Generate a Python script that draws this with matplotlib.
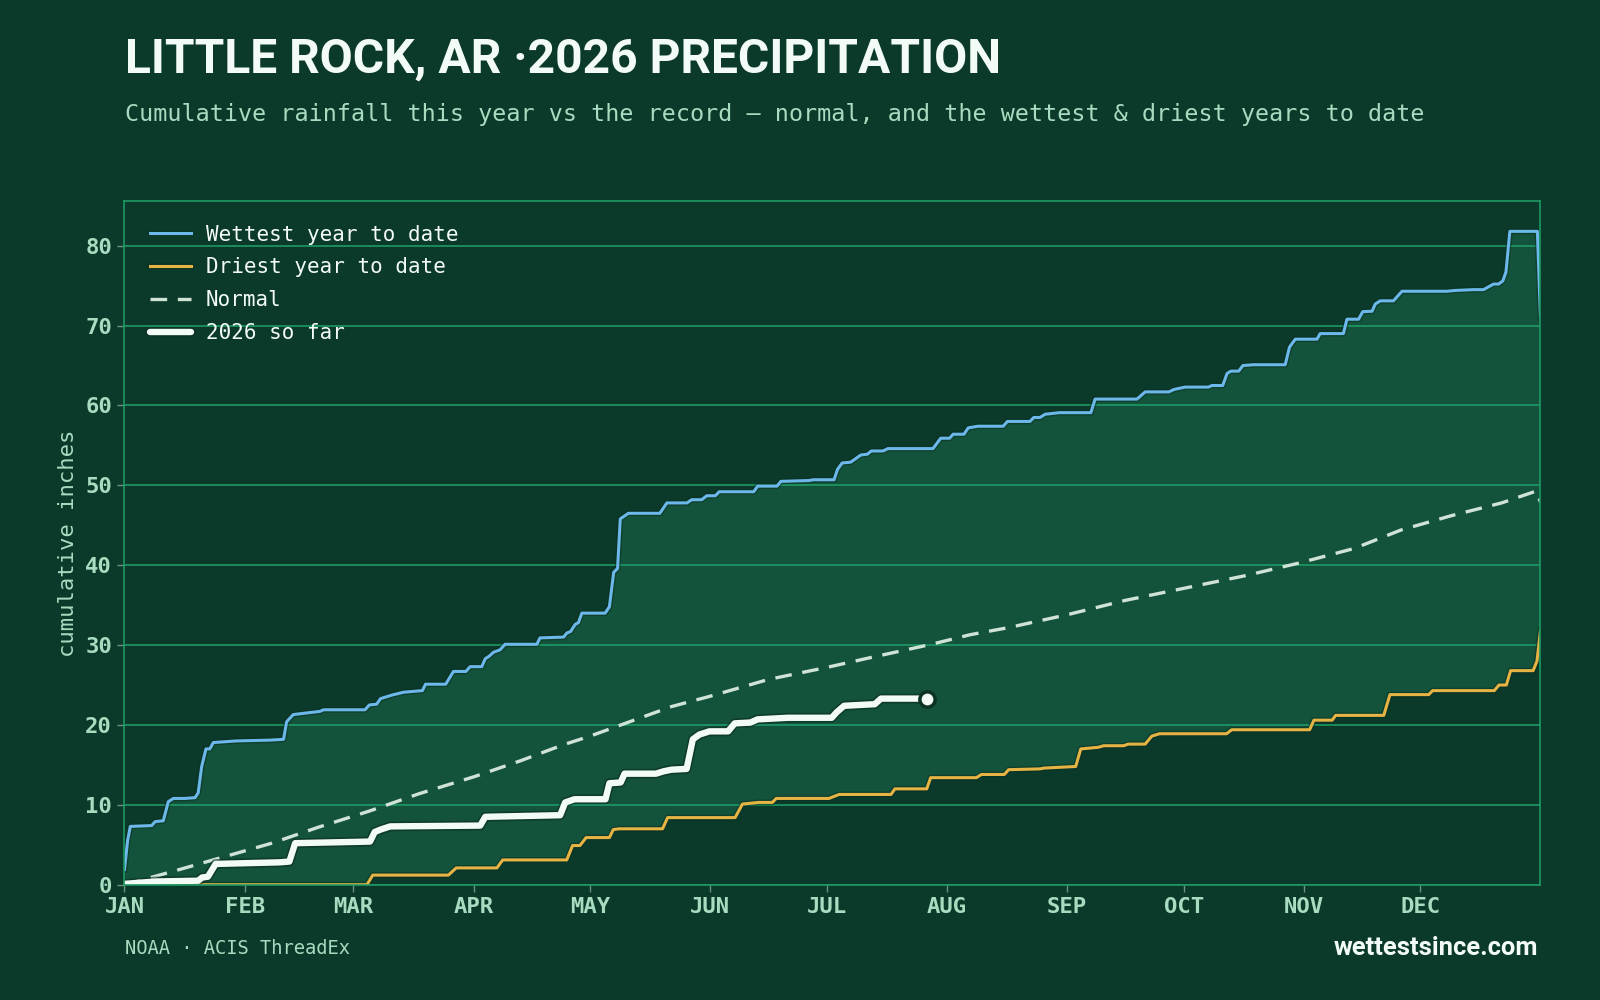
import matplotlib
matplotlib.use("Agg")
import matplotlib.pyplot as plt
import matplotlib.patheffects as pe
import numpy as np

# palette
BG = "#0b3a2a"
BAND = "#13523b"
GRID = "#1e9a63"
PALE = "#a8dcc0"
WHITE = "#f3fbf6"
WET_C = "#6db8ea"
DRY_C = "#e6b444"
NORM_C = "#cfe3d6"

MONTH_DAYS = [0, 31, 59, 90, 120, 151, 181, 212, 243, 273, 304, 334]
MONTH_LABELS = ["JAN", "FEB", "MAR", "APR", "MAY", "JUN",
                "JUL", "AUG", "SEP", "OCT", "NOV", "DEC"]
Y_TICKS = [0, 10, 20, 30, 40, 50, 60, 70, 80]

# wettest year to date (day of year, inches)
WET_DAY = [0, 0.8, 1.5, 7, 7.9, 10, 11.3, 12.6, 15.6, 18.2, 19, 19.9, 21, 22, 22.9,
           28.9, 37.5, 41, 41.8, 43.5, 50.4, 51.3, 62, 63.1, 65, 66, 69, 72, 76.8,
           77.6, 82.8, 84.8, 88, 89.1, 92.1, 93, 94, 95.1, 96.8, 98.1, 106.3, 107.1,
           113.2, 114, 115, 116.2, 117, 117.9, 123.9, 125, 126.1, 127.1, 127.8, 129.9,
           138, 139.8, 145, 146.2, 148.8, 150.1, 152.3, 153.3, 162.2, 163.2, 168.2,
           169.2, 176.4, 177.5, 182.9, 183.8, 185, 187.2, 189.8, 191.5, 192.5, 195.5,
           196.8, 208.4, 210.4, 212.7, 213.6, 216.4, 217.5, 220, 226.5, 227.6, 233.4,
           234.4, 236, 237.3, 241, 249.1, 250.2, 261, 263.1, 269.2, 270.5, 273.4,
           279.4, 280.3, 283.1, 284.2, 285.2, 287.2, 288.3, 291, 299.2, 300.3, 301.8,
           307.4, 308.2, 314.2, 315.1, 318.1, 319.2, 321.6, 322.4, 323.7, 327.1,
           329.3, 340.9, 343, 347.7, 350.3, 352.9, 354.2, 355.3, 356.1, 357.1,
           364.2, 365]
WET_IN = [1.9, 5.5, 7.3, 7.4, 7.9, 8.0, 10.4, 10.8, 10.8, 10.9, 11.5, 14.8, 17.0, 17.0,
          17.8, 18.0, 18.1, 18.2, 20.4, 21.3, 21.7, 21.9, 21.9, 22.5, 22.6, 23.3, 23.75,
          24.1, 24.3, 25.1, 25.1, 26.7, 26.7, 27.3, 27.3, 28.3, 28.6, 29.1, 29.4, 30.1,
          30.1, 30.9, 31.0, 31.5, 31.7, 32.6, 32.8, 34.0, 34.0, 34.8, 39.1, 39.6, 45.8,
          46.5, 46.5, 47.8, 47.8, 48.2, 48.2, 48.7, 48.7, 49.2, 49.2, 49.9, 49.9,
          50.5, 50.6, 50.7, 50.7, 52.0, 52.8, 52.9, 53.8, 53.9, 54.3, 54.3, 54.6,
          54.6, 55.9, 55.9, 56.4, 56.4, 57.2, 57.4, 57.4, 58.0, 58.0, 58.5, 58.5,
          58.9, 59.1, 59.1, 60.8, 60.8, 61.7, 61.7, 62.0, 62.3, 62.3, 62.5, 62.5,
          64.0, 64.3, 64.3, 65.0, 65.1, 65.1, 67.3, 68.3, 68.3, 69.0, 69.0, 70.8,
          70.8, 71.75, 71.8, 72.7, 73.1, 73.1, 74.3, 74.3, 74.4, 74.5, 74.5, 75.2,
          75.2, 75.6, 76.7, 81.8, 81.8, 71.0]

# driest year to date
DRY_DAY = [0, 62.5, 64, 83.5, 85.5, 96, 97.5, 114, 115.5, 117.4, 119, 125, 126, 127.5,
           138.7, 140, 157.4, 159.3, 163.5, 167, 168, 181.6, 184.2, 197.6, 198.6, 206.8,
           207.8, 219.6, 220.9, 226.8, 227.9, 236, 237, 245.2, 246.5, 251, 252.4, 257.6,
           258.7, 263.1, 264.8, 266.8, 284.1, 285.4, 305.5, 306.6, 311.3, 312.2, 324.6,
           326.2, 336.2, 337.2, 353.1, 354.3, 356.2, 357.3, 363.1, 364.1, 365]
DRY_IN = [0, 0, 1.2, 1.2, 2.1, 2.1, 3.1, 3.1, 4.9, 4.9, 5.9, 5.9, 6.9, 7.0,
          7.0, 8.4, 8.4, 10.1, 10.3, 10.3, 10.8, 10.8, 11.3, 11.3, 12.0, 12.0,
          13.4, 13.4, 13.8, 13.8, 14.4, 14.5, 14.6, 14.8, 17.0, 17.2, 17.4, 17.4,
          17.6, 17.6, 18.6, 18.9, 18.9, 19.4, 19.4, 20.6, 20.6, 21.2, 21.2,
          23.8, 23.8, 24.3, 24.3, 25.0, 25.0, 26.8, 26.8, 28.0, 31.8]

# 30-year normal
NORM_DAY = [0, 12, 25, 38, 50, 63, 76, 90, 102, 113, 120, 141, 151, 166, 181, 192,
            208, 218, 228, 243, 258, 273, 289, 303, 317, 329, 342, 355, 364, 365]
NORM_IN = [0, 1.6, 3.4, 5.2, 7.2, 9.2, 11.4, 13.5, 15.5, 17.5, 18.6, 22.3, 23.6, 25.7,
           27.2, 28.4, 30.1, 31.3, 32.2, 33.8, 35.6, 37.1, 38.7, 40.3, 42.1, 44.4,
           46.2, 47.8, 49.3, 47.9]

# 2026 so far
CUR_DAY = [0, 8, 19, 20, 21.5, 23.5, 40, 42.5, 44, 63.3, 64.5, 66, 68.5, 91.7, 93,
           112.3, 113.6, 116, 124, 125, 127.9, 128.9, 137, 139, 141, 144.9, 146.5,
           148.2, 150.8, 155.6, 157.3, 161.3, 163.2, 171, 182.3, 183.6, 185.5, 193.4,
           195, 206.9]
CUR_IN = [0.1, 0.4, 0.5, 0.9, 1.0, 2.6, 2.8, 2.9, 5.2, 5.4, 6.6, 6.9, 7.3, 7.4, 8.5,
          8.7, 10.3, 10.7, 10.7, 12.7, 12.8, 13.9, 13.9, 14.2, 14.4, 14.5, 18.2,
          18.8, 19.2, 19.2, 20.2, 20.3, 20.7, 20.9, 20.9, 21.6, 22.4, 22.6, 23.3, 23.3]

MONO = "DejaVu Sans Mono"
HEAD = "Roboto"

fig = plt.figure(figsize=(16, 10), dpi=100, facecolor=BG)
ax = fig.add_axes([0.0778, 0.1153, 0.885, 0.6837])
ax.set_facecolor(BG)

# band between driest and wettest
ax.fill(np.r_[WET_DAY, DRY_DAY[::-1]], np.r_[WET_IN, DRY_IN[::-1]],
        color=BAND, lw=0, zorder=1)

shadow = [pe.Stroke(linewidth=4.2, foreground="#0a2e21", alpha=0.5), pe.Normal()]
ax.plot(WET_DAY, WET_IN, color=WET_C, lw=2.2, zorder=3,
        path_effects=shadow, label="Wettest year to date")
ax.plot(DRY_DAY, DRY_IN, color=DRY_C, lw=2.2, zorder=3,
        path_effects=shadow, label="Driest year to date")
ax.plot(NORM_DAY, NORM_IN, color=NORM_C, lw=2.4, ls=(0, (5, 3.2)), zorder=3,
        label="Normal")
ax.plot(CUR_DAY, CUR_IN, color=WHITE, lw=4.6, zorder=4, solid_capstyle="round",
        path_effects=[pe.Stroke(linewidth=7, foreground="#0a2e21", alpha=0.6), pe.Normal()],
        label="2026 so far")
ax.plot(CUR_DAY[-1], CUR_IN[-1], "o", ms=11, mfc=WHITE, mec="#0b3324", mew=2.5, zorder=5)

ax.set_xlim(0, 365)
ax.set_ylim(0, 85.6)
ax.set_xticks(MONTH_DAYS, MONTH_LABELS)
ax.set_yticks(Y_TICKS)
ax.tick_params(colors="#6f8f80", length=5, width=1, labelcolor=PALE, pad=4)
for lab in ax.get_xticklabels() + ax.get_yticklabels():
    lab.set_fontfamily(MONO)
    lab.set_fontweight("bold")
    lab.set_fontsize(16)
ax.grid(axis="y", color=GRID, lw=1.2, zorder=2)
ax.grid(axis="x", visible=False)
for s in ax.spines.values():
    s.set_color(GRID)
    s.set_linewidth(1.2)
    s.set_zorder(6)
ax.set_ylabel("cumulative inches", family=MONO, fontsize=16, color=PALE, labelpad=5)

leg = ax.legend(loc="upper left", bbox_to_anchor=(0.003, 0.996), frameon=False,
                prop={"family": MONO, "size": 15}, labelcolor=WHITE,
                handlelength=2.0, handletextpad=0.7, labelspacing=0.62,
                borderaxespad=0.6)

fig.text(0.078, 0.940, "LITTLE ROCK, AR ·2026 PRECIPITATION", family=HEAD,
         fontweight="bold", fontsize=34.6, color=WHITE, va="center", ha="left")
fig.text(0.078, 0.885, "Cumulative rainfall this year vs the record — normal, and the "
         "wettest & driest years to date", family=MONO, fontsize=16.85, color=PALE,
         va="center", ha="left")
fig.text(0.078, 0.052, "NOAA · ACIS ThreadEx", family=MONO, fontsize=13.5,
         color=PALE, va="center", ha="left")
fig.text(0.9615, 0.052, "wettestsince.com", family=HEAD, fontweight="bold",
         fontsize=18.4, color=WHITE, va="center", ha="right")

fig.savefig("out.png", dpi=100, facecolor=BG)
